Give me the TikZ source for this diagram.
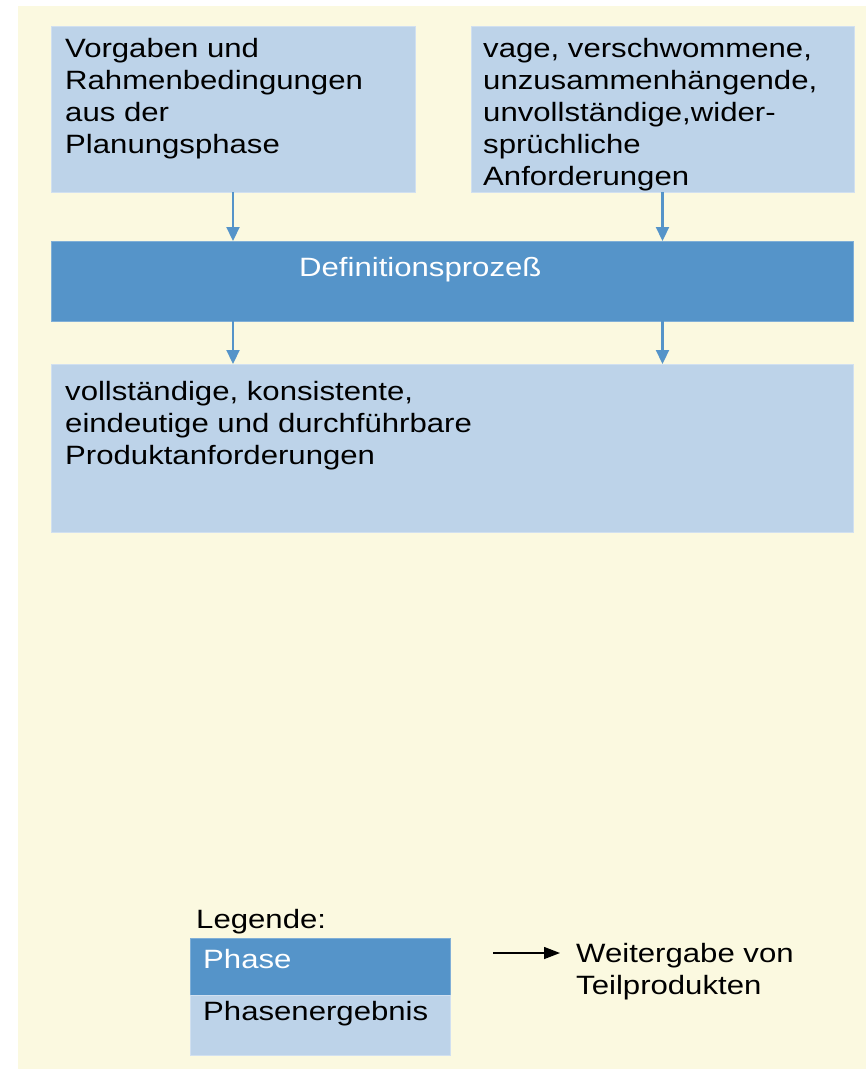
\documentclass[tikz,border=0pt]{standalone}
\usepackage{fontspec}
\setmainfont{Liberation Sans}[FakeStretch=1.175]
\usetikzlibrary{arrows.meta}
\definecolor{bg}{HTML}{FBF9E0}
\definecolor{phase}{HTML}{5594C9}
\definecolor{result}{HTML}{BDD3E9}
\begin{document}
\begin{tikzpicture}[x=1pt,y=-1pt,
  box/.style={anchor=north west, inner sep=0pt, outer sep=0pt},
  phasebox/.style={box, fill=phase, draw=phase!75!white, line width=0.8pt},
  resultbox/.style={box, fill=result, draw=result!70!white, line width=0.8pt},
  label/.style={anchor=north west, inner sep=0pt, align=left,
    font=\fontsize{26.5}{32}\selectfont},
  flow/.style={draw=phase, line width=2.2pt, -{Triangle[length=14pt,width=13pt]}},
  legendarrow/.style={draw=black, line width=1.4pt, -{Triangle[length=16pt,width=12pt]}},
]
\useasboundingbox (0,0) rectangle (866,1069);
\fill[bg] (18,6) rectangle (866,1069);

% inputs of the definition phase
\node[resultbox, minimum width=364pt, minimum height=166pt] (b1) at (51,26) {};
\node[resultbox, minimum width=383pt, minimum height=166pt] (b2) at (471,26) {};
\node[label] (t1) at (65,35) {\rule{0pt}{22pt}Vorgaben und\\Rahmenbedingungen\\aus der\\Planungsphase};
\node[label] (t2) at (483,35) {\rule{0pt}{22pt}vage, verschwommene,\\unzusammenhängende,\\unvollständige,wider-\\sprüchliche\\Anforderungen};

% the phase itself
\node[phasebox, minimum width=802pt, minimum height=80pt] (def) at (51,241) {};
\node[label, text=white] (tdef) at (299,254) {\rule{0pt}{22pt}Definitionsprozeß};

% result of the phase
\node[resultbox, minimum width=802pt, minimum height=168pt] (res) at (51,364) {};
\node[label] (tres) at (65,378) {\rule{0pt}{22pt}vollständige, konsistente,\\eindeutige und durchführbare\\Produktanforderungen};

% flow of partial products
\draw[flow] (b1.south) -- (b1.south |- def.north);
\draw[flow] (b2.south) -- (b2.south |- def.north);
\draw[flow] (b1.south |- def.south) -- (b1.south |- res.north);
\draw[flow] (b2.south |- def.south) -- (b2.south |- res.north);

% legend
\node[label] (tleg) at (196,906) {\rule{0pt}{22pt}Legende:};
\node[phasebox, minimum width=260pt, minimum height=57pt] (lphase) at (190,938) {};
\node[resultbox, minimum width=260pt, minimum height=60pt] (lres) at (190,995) {};
\node[label, text=white] (tlphase) at (203,946) {\rule{0pt}{22pt}Phase};
\node[label] (tlres) at (203,998) {\rule{0pt}{22pt}Phasenergebnis};
\coordinate (la) at (493,953);
\coordinate (lb) at (560,953);
\draw[legendarrow] (la) -- (lb);
\node[label] (tlarrow) at (576,940) {\rule{0pt}{22pt}Weitergabe von\\Teilprodukten};
\end{tikzpicture}
\end{document}
